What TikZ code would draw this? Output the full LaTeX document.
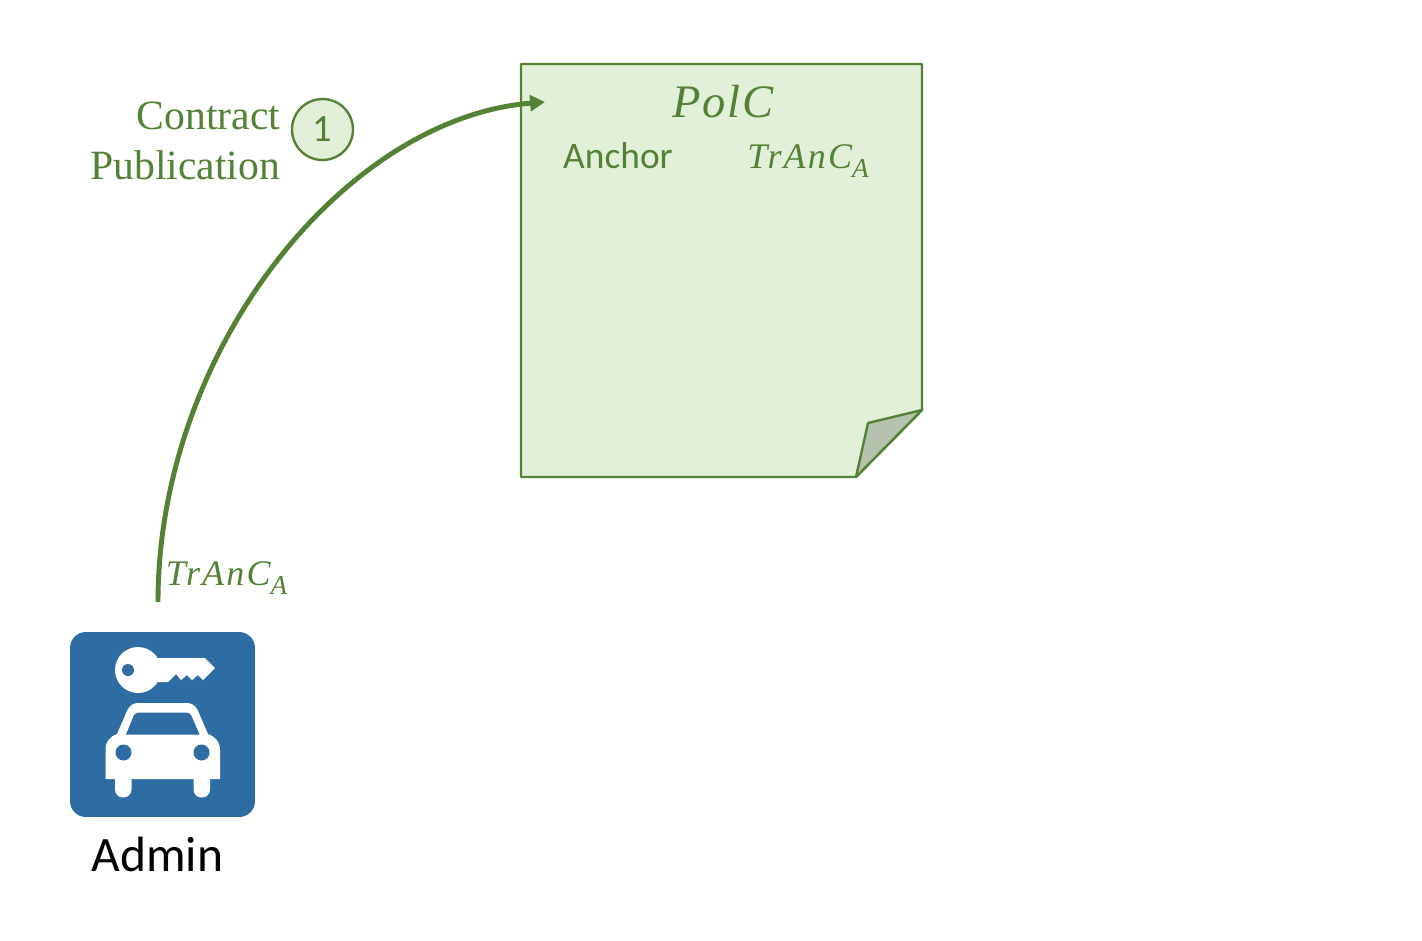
\documentclass[tikz,border=0pt]{standalone}
\usepackage{fontspec}
\setmainfont{Liberation Serif}
\newfontfamily\carlitofont{Carlito}
\newfontfamily\polfont[LetterSpace=6,Ligatures=NoCommon]{Liberation Serif}
\newfontfamily\polcfont[LetterSpace=4,Ligatures=NoCommon]{Liberation Serif}
\usetikzlibrary{arrows.meta}
\definecolor{polgreen}{HTML}{548235}
\definecolor{pollight}{HTML}{E2F0D9}
\definecolor{polfold}{HTML}{B5C2AE}
\definecolor{adminblue}{HTML}{2E6CA4}
\newcommand{\trancname}{{\polfont\itshape TrAnC}\raisebox{-0.55ex}{\fontsize{15.5}{16}\selectfont\itshape A}}
\tikzset{
    greentext/.style={text=polgreen,inner sep=0pt},
    notetext/.style={greentext,font=\fontsize{20.5}{22}\selectfont}
}
\begin{document}
\begin{tikzpicture}[x=0.02cm,y=-0.02cm]
    \useasboundingbox (0,0) rectangle (1422,940);
    \coordinate (pubstart) at (158,602);
    \coordinate (pubend) at (545,102);

    \draw[polgreen,fill=pollight,line width=1.35pt,line join=round] (521,64) -- (922,64) -- (922,410) -- (856,477) -- (521,477) -- cycle;
    \draw[polgreen,fill=polfold,line width=1.35pt,line join=round] (922,410) -- (868,423) -- (856,477) -- cycle;

    \draw[polgreen,line width=2.8pt,-{Triangle[length=8.5pt,width=9pt]}] (pubstart) .. controls (158,350) and (345,118) .. (pubend);

    \node[greentext,font=\fontsize{26.5}{28}\selectfont\itshape\polcfont] (polc) at (723,102) {PolC};
    \node[notetext,font=\fontsize{21.3}{22}\selectfont\carlitofont] (anchor) at (618,156) {Anchor};
    \node[notetext,anchor=base west] (trancnote) at (747,168) {\trancname};
    \node[notetext,anchor=base west] (trancadmin) at (165.5,585) {\trancname};

    \node[greentext,align=right,anchor=east,font=\fontsize{23.7}{28.5}\selectfont] (pubtext) at (280.5,141) {Contract\\Publication};
    \node[circle,draw=polgreen,fill=pollight,line width=1.35pt,minimum size=1.22cm,inner sep=0pt,text=polgreen,font=\fontsize{22}{22}\selectfont\carlitofont] (pubnum) at (322.5,129.5) {1};

    \node[fill=adminblue,rounded corners=9pt,minimum size=3.7cm,inner sep=0pt] (admin) at (162.5,724.5) {};
    \node[inner sep=0pt,font=\fontsize{28.2}{28}\selectfont\carlitofont] (adminname) at (157.5,854) {Admin};

    % key
    \fill[white] (138,670) circle (23);
    \fill[white] (150,658) -- (205,658) -- (215,668) -- (203,680) -- (198,675) -- (192,680) -- (187,675) -- (181,680) -- (176,674) -- (168,682) -- (150,682) -- cycle;
    \fill[adminblue] (128,670) circle (6);

    % car
    \fill[white] (105.5,779) -- (105.5,750) .. controls (105.5,741) and (111,736) .. (117,734) -- (127,711) .. controls (129,706) and (133,703) .. (138,703) -- (187,703) .. controls (192,703) and (196,706) .. (198,711) -- (208,734) .. controls (214,736) and (220,741) .. (220,750) -- (220,779) -- cycle;
    \fill[white,rounded corners=4.5pt] (115,770) -- (115,797.5) -- (131.5,797.5) -- (131.5,770) -- cycle;
    \fill[white,rounded corners=4.5pt] (193.5,770) -- (193.5,797.5) -- (210,797.5) -- (210,770) -- cycle;
    \fill[adminblue] (126,734.5) -- (199.5,734.5) [rounded corners=2pt] -- (190,712.5) -- (135,712.5) [sharp corners] -- cycle;
    \fill[adminblue] (123.5,752.5) circle (8);
    \fill[adminblue] (201.5,752.5) circle (8);
\end{tikzpicture}
\end{document}
